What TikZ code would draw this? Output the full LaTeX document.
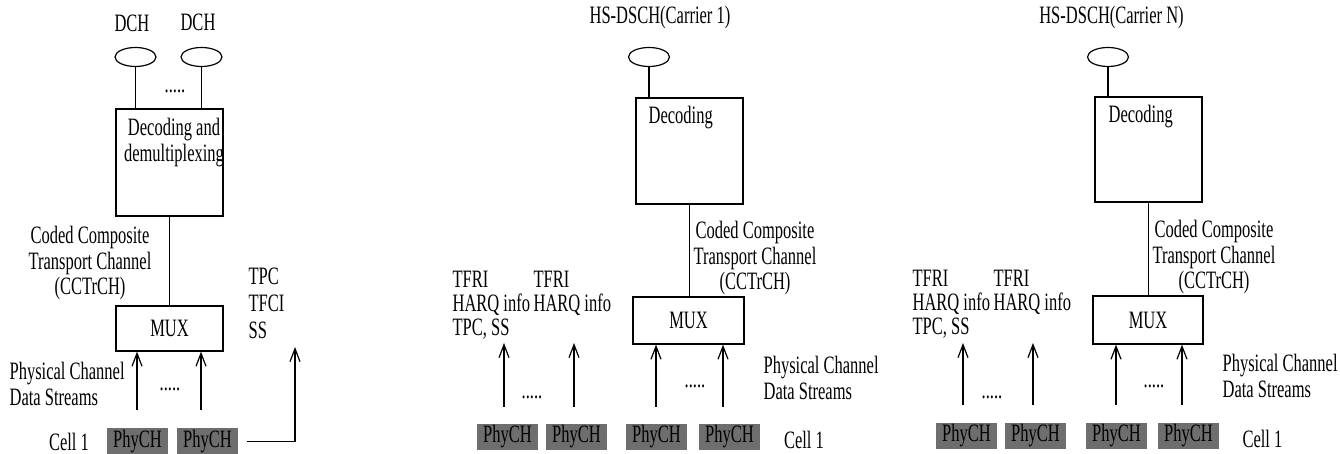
\documentclass[tikz,border=0pt]{standalone}
\usepackage{fontspec}
\setmainfont[FakeStretch=0.66]{Liberation Serif}
\usetikzlibrary{arrows.meta,shapes.geometric}
\definecolor{phygray}{RGB}{110,110,110}
\tikzset{
  txt/.style={inner sep=0pt, font=\fontsize{12.5}{12.75}\selectfont},
  chan/.style={draw, ellipse, minimum width=20.5pt, minimum height=9.5pt, inner sep=0pt},
  blk/.style={draw, minimum width=53.5pt, inner sep=0pt, font=\fontsize{12.5}{12.75}\selectfont},
  phy/.style={fill=phygray, minimum width=30.5pt, minimum height=13pt, inner sep=0pt, font=\fontsize{12.5}{12.75}\selectfont},
  up/.style={-{Straight Barb[length=6.5pt,width=5pt]}},
}
\begin{document}
\begin{tikzpicture}[x=0.5pt, y=-0.5pt, line width=0.6pt]
        \useasboundingbox (0,0) rectangle (1340,454);
        % DCH receiver
        \node[txt] (dch1) at (132,23) {DCH};
        \node[txt] (dch2) at (198,22) {DCH};
        \node[chan] (e1) at (135.5,57) {};
        \node[chan] (e2) at (201.5,57) {};
        \node[txt] (dots1) at (175,91) {.....};
        \node[blk, minimum height=53.5pt] (dec) at (169.5,162.5) {};
        \node[txt, align=center] (dectxt) at (174,142.5) {Decoding and\\demultiplexing};
        \draw (e1.south) -- (e1.south |- dec.north);
        \draw (e2.south) -- (e2.south |- dec.north);
        \node[blk, minimum height=22.5pt] (mux) at (169.5,328.5) {MUX};
        \draw (dec.south) -- (mux.north);
        \node[txt, align=center, anchor=north] (cct) at (90,226) {Coded Composite\\Transport Channel\\(CCTrCH)};
        \node[txt, align=left, anchor=north west, font=\fontsize{12.5}{13.5}\selectfont] (sig) at (248,267) {TPC\\TFCI\\SS};
        \node[txt, align=left, anchor=north west] (pcd) at (9,362) {Physical Channel\\Data Streams};
        \node[txt] (dots2) at (170,389) {.....};
        \node[txt] (cell) at (69,442) {Cell 1};
        \node[phy] (p1) at (137.5,441.5) {PhyCH};
        \node[phy] (p2) at (207.5,441.5) {PhyCH};
        \coordinate (a1) at (137,410);
        \coordinate (a2) at (201,410);
        \coordinate (s1) at (295,347);
        \draw[up] (a1) -- (a1 |- mux.south);
        \draw[up] (a2) -- (a2 |- mux.south);
        \draw[up] ([xshift=4pt]p2.east) -| (s1);
        % HS-DSCH carrier 1
        \node[txt] (hs1) at (660,17) {HS-DSCH(Carrier 1)};
        \node[chan] (e3) at (649,57) {};
        \node[blk, minimum height=53pt] (dec1) at (689.5,151) {};
        \node[txt, anchor=west] (dectxt1) at (648,118) {Decoding};
        \draw (e3.south) -- (e3.south |- dec1.north);
        \node[blk, minimum width=55.5pt, minimum height=23.5pt] (mux1) at (688.5,320.5) {MUX};
        \draw (dec1.south) -- (dec1.south |- mux1.north);
        \node[txt, align=center, anchor=north] (cct1) at (755,221) {Coded Composite\\Transport Channel\\(CCTrCH)};
        \node[txt, align=left, anchor=north west, font=\fontsize{12.5}{12}\selectfont] (tfa1) at (452,271) {TFRI\\HARQ info\\TPC, SS};
        \node[txt, align=left, anchor=north west, font=\fontsize{12.5}{12}\selectfont] (tfb1) at (533,271) {TFRI\\HARQ info};
        \node[txt, align=left, anchor=north west] (pcd1) at (763,356) {Physical Channel\\Data Streams};
        \node[txt] (dots3) at (532,397) {.....};
        \node[txt] (dots4) at (695,386) {.....};
        \node[phy] (p3) at (507.5,437) {PhyCH};
        \node[phy] (p4) at (576.5,437) {PhyCH};
        \node[phy] (p5) at (656.5,437) {PhyCH};
        \node[phy] (p6) at (729.5,437) {PhyCH};
        \node[txt] (cell1) at (804,440) {Cell 1};
        \coordinate (b1) at (504,407);
        \coordinate (b2) at (574,407);
        \coordinate (b3) at (656,407);
        \coordinate (b4) at (723,407);
        \draw[up] (b1) -- ++(0,-64);
        \draw[up] (b2) -- ++(0,-64);
        \draw[up] (b3) -- (b3 |- mux1.south);
        \draw[up] (b4) -- (b4 |- mux1.south);
        % HS-DSCH carrier N
        \node[txt] (hsn) at (1111.5,17) {HS-DSCH(Carrier N)};
        \node[chan] (e4) at (1108,57) {};
        \node[blk, minimum height=52.5pt] (decn) at (1148.5,149.5) {};
        \node[txt, anchor=west] (dectxtn) at (1108,117) {Decoding};
        \draw (e4.south) -- (e4.south |- decn.north);
        \node[blk, minimum width=55pt, minimum height=24pt] (muxn) at (1148,320) {MUX};
        \draw (decn.south) -- (decn.south |- muxn.north);
        \node[txt, align=center, anchor=north] (cctn) at (1214,220) {Coded Composite\\Transport Channel\\(CCTrCH)};
        \node[txt, align=left, anchor=north west, font=\fontsize{12.5}{12}\selectfont] (tfan) at (912,270) {TFRI\\HARQ info\\TPC, SS};
        \node[txt, align=left, anchor=north west, font=\fontsize{12.5}{12}\selectfont] (tfbn) at (993,270) {TFRI\\HARQ info};
        \node[txt, align=left, anchor=north west] (pcdn) at (1222,354) {Physical Channel\\Data Streams};
        \node[txt] (dots5) at (992,397) {.....};
        \node[txt] (dots6) at (1154,386) {.....};
        \node[phy] (p7) at (966.5,436) {PhyCH};
        \node[phy] (p8) at (1035.5,436) {PhyCH};
        \node[phy] (p9) at (1116.5,436) {PhyCH};
        \node[phy] (p10) at (1188.5,436) {PhyCH};
        \node[txt] (celln) at (1262.5,439) {Cell 1};
        \coordinate (c1) at (963,405);
        \coordinate (c2) at (1033,405);
        \coordinate (c3) at (1116,405);
        \coordinate (c4) at (1182,405);
        \draw[up] (c1) -- ++(0,-62);
        \draw[up] (c2) -- ++(0,-62);
        \draw[up] (c3) -- (c3 |- muxn.south);
        \draw[up] (c4) -- (c4 |- muxn.south);
    \end{tikzpicture}
\end{document}
